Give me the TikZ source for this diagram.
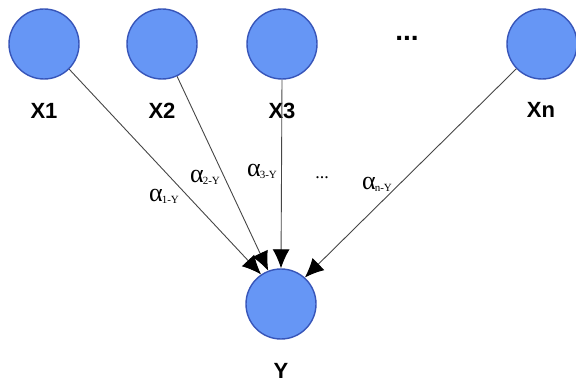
\documentclass[tikz,border=0pt]{standalone}
\usepackage{fontspec}
\setmainfont{Liberation Serif}
\newfontfamily\lsans{Liberation Sans}
\usetikzlibrary{arrows.meta}
\definecolor{nodefill}{RGB}{102,150,245}
\definecolor{nodeborder}{RGB}{55,85,185}
\definecolor{edgecol}{RGB}{70,70,70}
\tikzset{
  var/.style={circle,minimum size=70pt,inner sep=0pt,fill=nodefill,draw=nodeborder,line width=1.4pt},
  lbl/.style={font=\lsans\bfseries\fontsize{22}{22}\selectfont,inner sep=0pt},
  edge/.style={draw=edgecol,line width=0.9pt,-{Latex[length=19pt,width=17pt,color=black]}},
  wlbl/.style={inner sep=0pt}
}
\newcommand{\wt}[1]{{\fontsize{26}{26}\selectfont α}\hspace{-1pt}\raisebox{-2pt}{\fontsize{11}{11}\selectfont #1}}
\begin{document}
\begin{tikzpicture}[x=1pt,y=-1pt]
\useasboundingbox (0,0) rectangle (576,385);
\node[var] (x1) at (44,44) {};
\node[var] (x2) at (162,44) {};
\node[var] (x3) at (282,44) {};
\node[var] (xn) at (542,44) {};
\node[var] (y) at (281,304) {};
\node[lbl] (lx1) at (44,111) {X1};
\node[lbl] (lx2) at (162,111) {X2};
\node[lbl] (lx3) at (282,111) {X3};
\node[lbl] (lxn) at (541,110) {Xn};
\node[lbl] (ly) at (281,371) {Y};
\node[lbl,font=\lsans\bfseries\fontsize{28}{28}\selectfont] (dots) at (407,38) {...};
\draw[edge] (x1.-45) -- (y.124);
\draw[edge] (x2.-65) -- (y.111);
\draw[edge] (x3.-90) -- (y.90);
\draw[edge] (xn.224) -- (y.48);
\node[wlbl] (a1) at (164,196) {\wt{1-Y}};
\node[wlbl] (a2) at (205,177) {\wt{2-Y}};
\node[wlbl] (a3) at (262,171) {\wt{3-Y}};
\node[wlbl] (md) at (322,178) {\fontsize{18}{18}\selectfont ...};
\node[wlbl] (an) at (377,184) {\wt{n-Y}};
\end{tikzpicture}
\end{document}
